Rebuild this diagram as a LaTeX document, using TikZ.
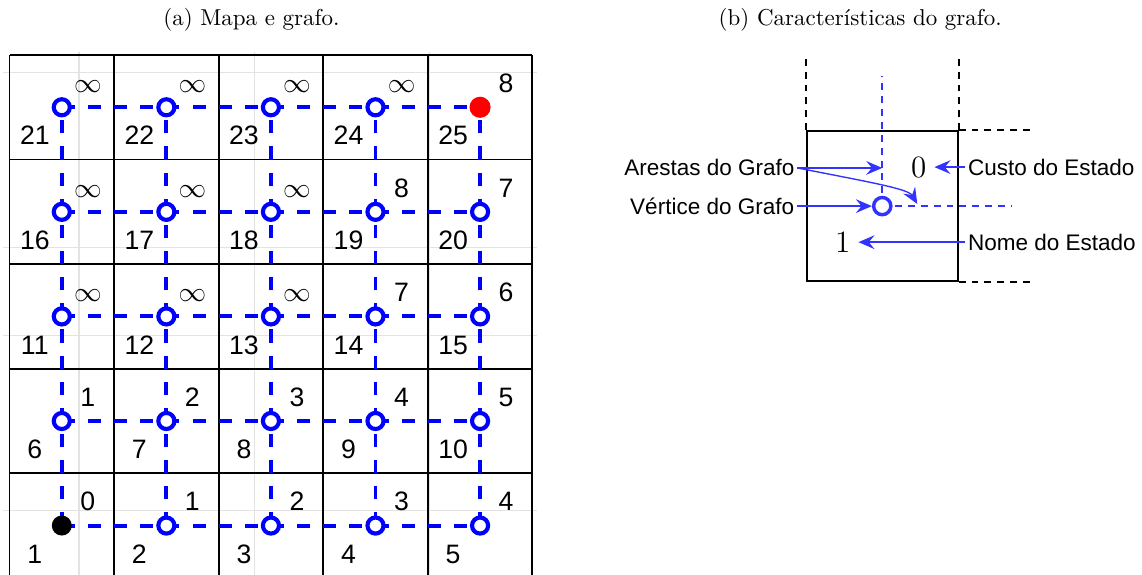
\documentclass[tikz,border=0pt]{standalone}
\usepackage{amsmath}
\usepackage{fontspec}
\setsansfont{Liberation Sans}
\usepackage{tikz}
\usetikzlibrary{arrows.meta,positioning,calc}
\tikzset{
  bggrid/.style={draw=gray!22, line width=0.6pt},
  cellline/.style={draw=black, line width=0.8pt},
  gedge/.style={draw=blue, line width=1.7pt, dash pattern=on 0.2cm off 0.2cm},
  vtx/.style={circle, draw=blue, line width=1.8pt, fill=white,
    inner sep=0pt, minimum size=7pt},
  startvtx/.style={circle, fill=black, inner sep=0pt, minimum size=8.7pt},
  goalvtx/.style={circle, fill=red, inner sep=0pt, minimum size=9.2pt},
  numlbl/.style={font=\sffamily\fontsize{11.6}{13}\selectfont,
    anchor=base, inner sep=0pt},
  capt/.style={font=\rmfamily\fontsize{10}{12}\selectfont},
  cdash/.style={draw=black, line width=0.8pt, dash pattern=on 3pt off 2.6pt},
  tdash/.style={draw=blue!80, line width=0.7pt, dash pattern=on 3pt off 2.6pt},
  cvtx/.style={circle, draw=blue!80, line width=1.5pt, fill=white,
    inner sep=0pt, minimum size=7.5pt},
  statelbl/.style={font=\rmfamily\fontsize{13.5}{15}\selectfont},
  sidelbl/.style={font=\sffamily\fontsize{9.8}{11}\selectfont, inner sep=1pt},
  arr/.style={-{Stealth[length=7pt, width=6pt, inset=2.5pt]},
    line width=0.6pt, draw=blue!80}
}

\begin{document}
\begin{tikzpicture}[x=1.6cm, y=1.6cm]
\useasboundingbox (-0.091,0.033) rectangle (10.83,5.526);

% Captions
\node[capt] (capa) at (2.314,5.335) {(a) Mapa e grafo.};
\node[capt] (capb) at (8.136,5.335) {(b) Características do grafo.};

% Background grid
\foreach \x in {0.665,2.34,4.015}
  \draw[bggrid] (\x,0) -- (\x,5.03);
\foreach \y in {0.646,2.32,3.16,4.83}
  \draw[bggrid] (-0.06,\y) -- (5.04,\y);

% Map cells
\draw[cellline, step=1] (0,0) grid (5,5);

% Vertex positions
\foreach \r in {0,...,4}
  \foreach \c in {0,...,4} {
    \pgfmathtruncatemacro{\k}{5*\r+\c+1}
    \coordinate (p\k) at (\c+0.5,\r+0.5);
  }

% Graph edges
\foreach \k in {1,...,25} {
  \pgfmathtruncatemacro{\c}{mod(\k-1,5)}
  \pgfmathtruncatemacro{\nr}{\k+1}
  \pgfmathtruncatemacro{\nu}{\k+5}
  \ifnum\c<4 \draw[gedge] (p\k) -- (p\nr); \fi
  \ifnum\k<21 \draw[gedge] (p\k) -- (p\nu); \fi
}

% Vertices
\foreach \k in {2,...,24}
  \node[vtx] (v\k) at (p\k) {};
\node[startvtx] (v1) at (p1) {};
\node[goalvtx] (v25) at (p25) {};

% State names and costs
\foreach \k/\cst in {1/0,2/1,3/2,4/3,5/4,
                     6/1,7/2,8/3,9/4,10/5,
                     11/$\infty$,12/$\infty$,13/$\infty$,14/7,15/6,
                     16/$\infty$,17/$\infty$,18/$\infty$,19/8,20/7,
                     21/$\infty$,22/$\infty$,23/$\infty$,24/$\infty$,25/8} {
  \node[numlbl] (nm\k) at ($(p\k)+(-0.258,-0.36)$) {\k};
  \node[numlbl] (cs\k) at ($(p\k)+(0.249,0.14)$) {\cst};
}

% Cell detail
\node[draw, line width=0.8pt, minimum width=2.31cm, minimum height=2.30cm,
  inner sep=0pt] (box) at (8.346,3.555) {};
\draw[cdash] (box.north west) -- ++(0,0.707);
\draw[cdash] (box.north east) -- ++(0,0.707);
\draw[cdash] (box.north east) -- ++(0.707,0);
\draw[cdash] (box.south east) -- ++(0.707,0);

\coordinate (cc) at (box.center);
\draw[tdash] (cc) -- ++(0,1.245);
\draw[tdash] (cc) -- ++(1.245,0);
\node[cvtx] (cv) at (cc) {};

\node[statelbl] (custo) at ($(cc)+(0.349,0.373)$) {0};
\node[statelbl] (nome) at ($(cc)+(-0.378,-0.345)$) {1};

\coordinate (ev) at ($(cc)+(0,0.365)$);
\coordinate (eh) at ($(cc)+(0.335,0.02)$);

\node[sidelbl, left=1.3cm of ev] (arestas) {Arestas do Grafo};
\node[sidelbl, left=1.148cm of cv] (vertice) {Vértice do Grafo};
\node[sidelbl, anchor=west] (custolbl) at (9.14,3.928) {Custo do Estado};
\node[sidelbl, anchor=west] (nomelbl) at (9.14,3.21) {Nome do Estado};

% ── Arrows ──────────────────────────────────────────────
\draw[arr] (arestas.east) -- (ev);
\draw[arr] (arestas.east) .. controls ($(cc)+(-0.1,0.225)$)
  and ($(cc)+(0.25,0.165)$) .. (eh);
\draw[arr] (vertice.east) -- (cv.west);
\draw[arr] (custolbl.west) -- (custolbl.west -| custo.east);
\draw[arr] (nomelbl.west) -- (nomelbl.west -| nome.east);

\end{tikzpicture}
\end{document}
